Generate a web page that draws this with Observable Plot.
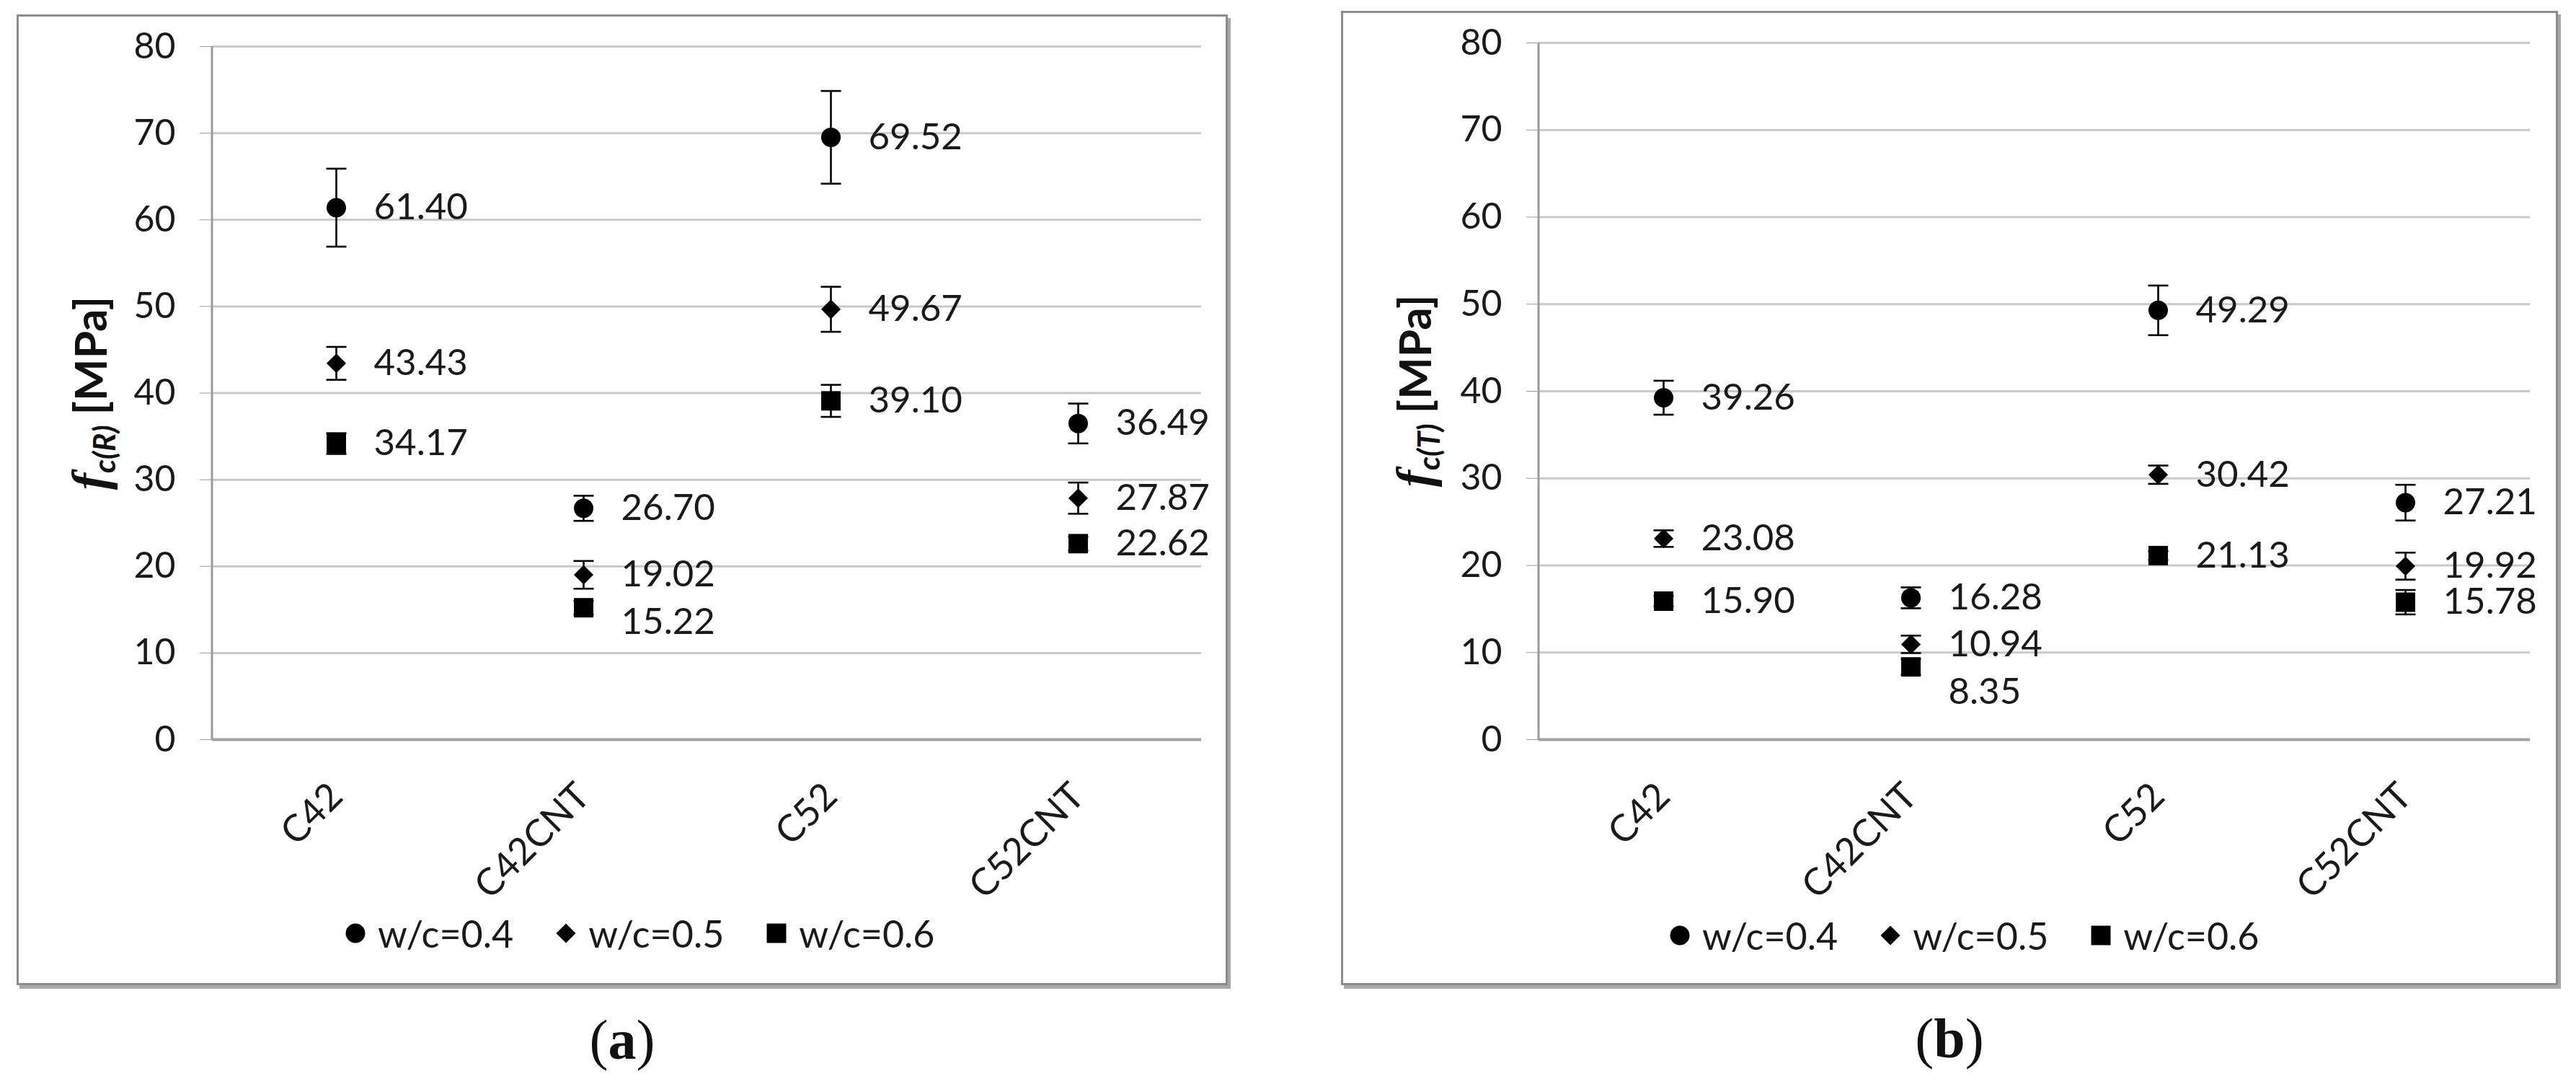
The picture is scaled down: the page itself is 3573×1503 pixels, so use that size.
<!DOCTYPE html>
<html>
<head>
<meta charset="utf-8">
<script src="https://cdn.jsdelivr.net/npm/d3@7"></script>
<script src="https://cdn.jsdelivr.net/npm/@observablehq/plot@0.6"></script>
<style>
  html, body { margin: 0; padding: 0; background: #fff; }
  body { width: 3573px; height: 1503px; position: relative; overflow: hidden; font-family: Lato, "Open Sans", sans-serif; color: #1a1a1a; }
  .panel { position: absolute; box-sizing: border-box; border: 3px solid #8c8c8c; box-shadow: 4px 5px 0 #a8a8a8; background: #fff; }
  .panel svg.plot { position: absolute; left: 0; top: 0; overflow: visible; }
  .ylab { position: absolute; transform: translate(-50%, -50%) rotate(-90deg); white-space: nowrap; font-family: Lato, sans-serif; font-weight: 700; font-size: 62px; color: #111; }
  .ylab .f { font-family: "Liberation Serif", serif; font-style: italic; font-weight: 700; font-size: 70px; }
  .ylab sub { font-style: italic; font-size: 42px; vertical-align: -12px; margin-right: 14px; }
  .legend { position: absolute; display: flex; align-items: center; transform: translateY(-50%); font-size: 52px; color: #1a1a1a; white-space: nowrap; }
  .legend .item { display: flex; align-items: center; margin-right: 58px; }
  .legend svg { margin-right: 16px; }
  .cap { position: absolute; transform: translate(-50%, -50%); font-family: "Liberation Serif", serif; font-size: 78px; color: #111; }
  .cap b { font-weight: 700; }
</style>
</head>
<body>
<script>
// ---------- data ----------
const categories = ["C42", "C42CNT", "C52", "C52CNT"];
const series = ["w/c=0.4", "w/c=0.5", "w/c=0.6"];
const yTicks = [0, 10, 20, 30, 40, 50, 60, 70, 80];

// (a) f_c(R) [MPa]
const fcR_wc04 = [61.40, 26.70, 69.52, 36.49];
const fcR_wc05 = [43.43, 19.02, 49.67, 27.87];
const fcR_wc06 = [34.17, 15.22, 39.10, 22.62];
const fcR_err04 = [4.5, 1.45, 5.35, 2.3];
const fcR_err05 = [1.9, 1.6, 2.6, 1.8];
const fcR_err06 = [1.2, 0.8, 1.85, 0.8];

// (b) f_c(T) [MPa]
const fcT_wc04 = [39.26, 16.28, 49.29, 27.21];
const fcT_wc05 = [23.08, 10.94, 30.42, 19.92];
const fcT_wc06 = [15.90, 8.35, 21.13, 15.78];
const fcT_err04 = [1.95, 1.2, 2.85, 2.05];
const fcT_err05 = [0.95, 1.0, 1.05, 1.55];
const fcT_err06 = [0.6, 0.9, 0.5, 1.4];

// ---------- styling / layout ----------
const symbols = ["circle", "diamond2", "square"];
const legendSymbols = [d3.symbolCircle, d3.symbolDiamond2, d3.symbolSquare];
const symbolR = [13.5, 12.2, 15.2];
const FS = 51;

const capSymbol = {
  draw(ctx, size) { const w = Math.sqrt(size / Math.PI); ctx.moveTo(-w, 0); ctx.lineTo(w, 0); }
};

function buildRows(vals, errs) {
  const rows = [];
  categories.forEach((c, i) => {
    series.forEach((s, k) => rows.push({cat: c, s, k, v: vals[k][i], e: errs[k][i]}));
  });
  return rows;
}

function labelRows(rows, pxPerUnit) {
  const out = [];
  categories.forEach(c => {
    const g = rows.filter(r => r.cat === c).sort((a, b) => b.v - a.v);
    let prev = null;
    g.forEach(r => {
      let ly = r.v, pushed = false;
      if (prev !== null && (prev - r.v) * pxPerUnit < 0.9 * FS) { ly = prev; pushed = true; }
      out.push({...r, ly, pushed, text: r.v.toFixed(2)});
      prev = ly;
    });
  });
  return out;
}

function makePanel(opt) {
  const panel = document.createElement("div");
  panel.className = "panel";
  Object.assign(panel.style, {left: opt.left + "px", top: opt.top + "px", width: opt.w + "px", height: opt.h + "px"});
  document.body.appendChild(panel);

  const W = opt.w - 6, H = 1200;
  const rows = buildRows(opt.vals, opt.errs);
  const pxPerUnit = (opt.y0 - opt.y80) / 80;
  const lrows = labelRows(rows, pxPerUnit);

  const yAxisLine = function(...args) {
    const scales = args.find(a => a && typeof a.y === "function");
    const dims = args.find(a => a && typeof a === "object" && "marginLeft" in a && "width" in a);
    const ln = d3.create("svg:line")
      .attr("x1", dims.marginLeft).attr("x2", dims.marginLeft)
      .attr("y1", scales.y(yTicks[yTicks.length - 1])).attr("y2", scales.y(0))
      .attr("stroke", "#9a9a9a").attr("stroke-width", 3);
    return ln.node();
  };

  const chart = Plot.plot({
    width: W,
    height: H,
    marginLeft: opt.axisX,
    marginRight: W - opt.gridEnd,
    marginTop: opt.y80,
    marginBottom: H - opt.y0,
    style: {fontFamily: "Lato, sans-serif", fontSize: FS + "px", color: "#1a1a1a", background: "transparent", overflow: "visible"},
    x: {type: "point", domain: categories, padding: 0.5, label: null},
    y: {domain: [0, 80], label: null},
    symbol: {domain: series, range: symbols},
    marks: [
      Plot.gridY(yTicks.filter(t => t > 0), {stroke: "#c9c9c9", strokeWidth: 3, strokeOpacity: 1}),
      Plot.ruleY([0], {stroke: "#a0a0a0", strokeWidth: 4}),
      yAxisLine,
      Plot.axisY(yTicks, {tickSize: 17, tickPadding: 34, stroke: "#9a9a9a", fill: "#1a1a1a", fontSize: 50, label: null}),
      Plot.axisX({tickSize: 0, tickPadding: 70, tickRotate: -45, fill: "#1a1a1a", fontSize: 52, label: null}),
      Plot.ruleX(rows, {x: "cat", y1: d => d.v - d.e, y2: d => d.v + d.e, stroke: "#000", strokeWidth: 2.6}),
      Plot.dot(rows, {x: "cat", y: d => d.v + d.e, symbol: capSymbol, r: 14, stroke: "#000", strokeWidth: 2.6, fill: "none"}),
      Plot.dot(rows, {x: "cat", y: d => d.v - d.e, symbol: capSymbol, r: 14, stroke: "#000", strokeWidth: 2.6, fill: "none"}),
      ...series.map((s, k) => Plot.dot(rows.filter(r => r.k === k), {x: "cat", y: "v", symbol: "s", r: symbolR[k], fill: "#000", stroke: "none"})),
      Plot.text(lrows.filter(r => !r.pushed), {x: "cat", y: "ly", text: "text", dx: 52, textAnchor: "start", fill: "#1a1a1a", fontSize: FS}),
      Plot.text(lrows.filter(r => r.pushed), {x: "cat", y: "ly", text: "text", dx: 52, dy: Math.round(FS * 1.3), textAnchor: "start", fill: "#1a1a1a", fontSize: FS})
    ]
  });
  chart.classList.add("plot");
  panel.appendChild(chart);

  const yl = document.createElement("div");
  yl.className = "ylab";
  yl.innerHTML = `<span class="f">f</span><sub>${opt.sub}</sub>[MPa]`;
  Object.assign(yl.style, {left: opt.ylabX + "px", top: ((opt.y0 + opt.y80) / 2) + "px"});
  panel.appendChild(yl);

  const lg = document.createElement("div");
  lg.className = "legend";
  Object.assign(lg.style, {left: opt.legX + "px", top: opt.legY + "px"});
  series.forEach((s, k) => {
    const it = document.createElement("div");
    it.className = "item";
    const sv = d3.create("svg").attr("width", 30).attr("height", 30).attr("viewBox", "-15 -15 30 30");
    sv.append("path").attr("d", d3.symbol(legendSymbols[k], Math.PI * symbolR[k] * symbolR[k])()).attr("fill", "#000");
    it.appendChild(sv.node());
    const t = document.createElement("span");
    t.textContent = s;
    it.appendChild(t);
    lg.appendChild(it);
  });
  panel.appendChild(lg);

  const cap = document.createElement("div");
  cap.className = "cap";
  cap.innerHTML = `(<b>${opt.capLetter}</b>)`;
  Object.assign(cap.style, {left: (opt.left + opt.w / 2) + "px", top: opt.capY + "px"});
  document.body.appendChild(cap);
}

makePanel({left: 23, top: 20, w: 1680, h: 1346, axisX: 268, gridEnd: 1640, y80: 41, y0: 1002,
  vals: [fcR_wc04, fcR_wc05, fcR_wc06], errs: [fcR_err04, fcR_err05, fcR_err06],
  sub: "c(R)", ylabX: 101, legX: 452, legY: 1271, capLetter: "a", capY: 1442});

makePanel({left: 1860, top: 15, w: 1688, h: 1351, axisX: 271, gridEnd: 1646, y80: 41, y0: 1007,
  vals: [fcT_wc04, fcT_wc05, fcT_wc06], errs: [fcT_err04, fcT_err05, fcT_err06],
  sub: "c(T)", ylabX: 101, legX: 452, legY: 1279, capLetter: "b", capY: 1440});
</script>
</body>
</html>
